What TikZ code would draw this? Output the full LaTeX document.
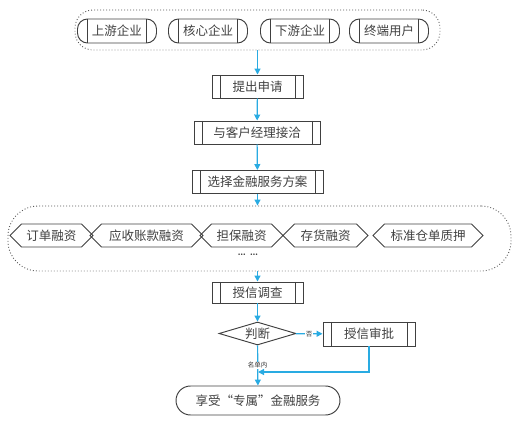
\documentclass[tikz,border=0pt]{standalone}
\usepackage{fontspec}
\newfontfamily\cjk{Noto Sans CJK SC}
\usetikzlibrary{shapes.geometric,shapes.symbols,arrows.meta}

\definecolor{flow blue}{HTML}{29ABE2}
\colorlet{box edge}{black!75}
\colorlet{group edge}{black!65}
\tikzset{
  boxed/.style={draw=box edge, line width=0.95pt, text=black!75, inner sep=0pt,
    font=\cjk\fontsize{12.5}{14}\selectfont},
  bars/.style={path picture={
    \draw[box edge, line width=0.9pt]
      ([xshift=#1]path picture bounding box.north west) -- ([xshift=#1]path picture bounding box.south west)
      ([xshift=-#1]path picture bounding box.north east) -- ([xshift=-#1]path picture bounding box.south east);}}
  }
\tikzstyle{process} = [boxed, rectangle, minimum height=23pt, bars=8pt]
\tikzstyle{partner} = [boxed, rectangle, rounded corners=10pt, minimum height=24pt, minimum width=79pt, bars=10pt]
\tikzstyle{product} = [boxed, signal, signal to=west and east, signal pointer angle=90, minimum height=23pt]
\tikzstyle{decision} = [boxed, diamond, minimum width=77pt, minimum height=23pt, aspect=3.3]
\tikzstyle{terminal} = [boxed, rectangle, rounded corners=14.5pt, minimum height=29pt]
\tikzstyle{group} = [draw=group edge, line width=0.9pt, dash pattern=on 0.9pt off 2.1pt]
\tikzstyle{flow} = [draw=flow blue, line width=1.2pt, -{Triangle[width=6pt,length=6pt]}]
\tikzstyle{tag} = [font=\cjk\fontsize{6.5}{7}\selectfont, fill=white, inner sep=0.5pt, text=black!80]

\begin{document}
\begin{tikzpicture}[x=1pt, y=-1pt]

    \useasboundingbox (0,0) rectangle (515,425);

    % The dotted groups
    \node[group, rounded corners=18pt, minimum width=365pt, minimum height=40pt] (partners) at (257.5,30) {};
    \node[group, rounded corners=30pt, minimum width=503pt, minimum height=65pt] (products) at (259.5,238.5) {};

    % The chain partners
    \foreach \pos/\name/\label in {{(117,31)/up/上游企业}, {(208,31)/core/核心企业},
                                   {(300,31)/down/下游企业}, {(389,31)/user/终端用户}}
      \node[partner] (\name) at \pos {\label};

    % The steps of the application
    \node[process, minimum width=91pt] (apply) at (257.5,86.5) {提出申请};
    \node[process, minimum width=126pt] (meet) at (257,132.5) {与客户经理接洽};
    \node[process, minimum width=131pt] (plan) at (257.5,182) {选择金融服务方案};

    % The financing products
    \foreach \pos/\wid/\name/\label in {{(51.5,235.5)/83/order/订单融资}, {(146.5,235.5)/113/receivable/应收账款融资},
                                       {(241.5,235.5)/83/guarantee/担保融资}, {(325.5,235.5)/85/stock/存货融资},
                                       {(428,235.5)/110/warrant/标准仓单质押}}
      \node[product, minimum width=\wid pt] (\name) at \pos {\label};
    \node[font=\bfseries, text=black!80] (more) at (248,255) {\ldots\ \ldots};

    % Credit check and approval
    \node[process, minimum width=91pt, minimum height=21pt] (survey) at (257.5,292.5) {授信调查};
    \node[decision] (judge) at (257.5,333.5) {判断};
    \node[process, minimum width=92pt, minimum height=24pt] (approve) at (369,334) {授信审批};
    \node[terminal, minimum width=164pt] (enjoy) at (258,400.5) {享受“专属”金融服务};
    \coordinate (merge) at (258,372);

    % The flow between them
    \path[flow] (partners.south) -- (apply);
    \path[flow] (apply) -- (meet);
    \path[flow] (meet) -- (plan);
    \path[flow] (plan.south) -- (plan.south |- products.north);
    \path[flow] (survey.north |- products.south) -- (survey);
    \path[flow] (survey) -- (judge);
    \path[flow] (judge) -- node[tag] (no) {否} (approve);
    \path[flow] (judge) -- node[tag, pos=0.5] (inlist) {名单内} (enjoy);
    \path[flow] (approve) |- (merge);

\end{tikzpicture}
\end{document}
